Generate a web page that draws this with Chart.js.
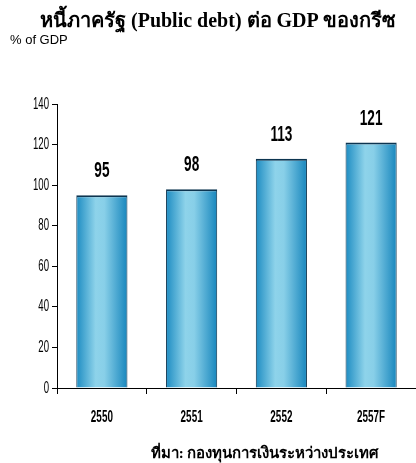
<!DOCTYPE html>
<html>
<head>
<meta charset="utf-8">
<script src="https://cdn.jsdelivr.net/npm/chart.js@4.4.1/dist/chart.umd.min.js"></script>
<style>
  html, body { margin: 0; padding: 0; background: #fff; }
  #wrap { position: relative; width: 416px; height: 463px; overflow: hidden; }
  #cv { position: absolute; left: 0; top: 0; }
  .title { position: absolute; left: 40px; top: 4px; font: bold 20px "Liberation Serif", "Times New Roman", serif; color: #000; white-space: nowrap; }
  .unit  { position: absolute; left: 10px; top: 32px; font: 13px "Liberation Sans", Arial, sans-serif; color: #000; }
  .src   { position: absolute; left: 0; width: 530px; text-align: center; top: 441px; font: bold 15px "Liberation Serif", "Times New Roman", serif; color: #000; white-space: nowrap; }
</style>
</head>
<body>
<div id="wrap">
  <canvas id="cv" width="416" height="463"></canvas>
  <div class="title">หนี้ภาครัฐ (Public debt) ต่อ GDP ของกรีซ</div>
  <div class="unit">% of GDP</div>
  <div class="src">ที่มา: กองทุนการเงินระหว่างประเทศ</div>
</div>
<script>
const categories = ['2550', '2551', '2552', '2557F'];
const debtPct    = [95, 98, 113, 121];
const yTicks     = [0, 20, 40, 60, 80, 100, 120, 140];

const SANS = '"Liberation Sans", Arial, sans-serif';
const BAR_PCT = 0.57;

function barGradient(c) {
  const chart = c.chart;
  if (!chart.chartArea) return '#4fb0d8';
  const xs = chart.scales.x;
  const cx = xs.getPixelForValue(c.dataIndex);
  const half = (xs.width / categories.length) * BAR_PCT / 2;
  const g = chart.ctx.createLinearGradient(cx - half, 0, cx + half, 0);
  g.addColorStop(0, '#1d8cc2');
  g.addColorStop(0.38, '#8ed3ea');
  g.addColorStop(0.55, '#88cfe8');
  g.addColorStop(1, '#1786bd');
  return g;
}

// no narrow font installed -> squeeze the text by hand
function squeezedText(ctx, txt, x, y, sx, sy) {
  ctx.save();
  ctx.translate(x, y);
  ctx.scale(sx, sy);
  ctx.fillText(txt, 0, 0);
  ctx.restore();
}

const narrowLabels = {
  id: 'narrowLabels',
  afterDraw(chart) {
    const ctx = chart.ctx;
    const xs = chart.scales.x, ys = chart.scales.y;
    ctx.save();
    ctx.fillStyle = '#000';

    // y tick labels
    ctx.textAlign = 'right';
    ctx.textBaseline = 'middle';
    ctx.font = '16px ' + SANS;
    yTicks.forEach(v => squeezedText(ctx, String(v), xs.left - 8, ys.getPixelForValue(v), 0.6, 1.05));

    // category labels
    ctx.textAlign = 'center';
    ctx.textBaseline = 'middle';
    ctx.font = 'bold 15px ' + SANS;
    categories.forEach((c, i) => squeezedText(ctx, c, xs.getPixelForValue(i), ys.bottom + 29, 0.66, 1.1));

    // values above bars
    ctx.textBaseline = 'alphabetic';
    ctx.font = 'bold 17px ' + SANS;
    chart.getDatasetMeta(0).data.forEach((bar, i) => {
      squeezedText(ctx, String(debtPct[i]), bar.x, bar.y - 18, 0.8, 1.25);
    });
    ctx.restore();
  }
};

new Chart(document.getElementById('cv'), {
  type: 'bar',
  data: {
    labels: categories,
    datasets: [{
      data: debtPct,
      backgroundColor: barGradient,
      borderColor: '#0d3550',
      borderWidth: { top: 2, left: 1, right: 1, bottom: 0 },
      borderSkipped: false,
      barPercentage: BAR_PCT,
      categoryPercentage: 1
    }]
  },
  options: {
    responsive: false,
    animation: false,
    layout: { padding: { top: 104, left: 0, right: 0, bottom: 0 } },
    plugins: { legend: { display: false }, tooltip: { enabled: false }, title: { display: false } },
    scales: {
      x: {
        grid: { offset: true, drawOnChartArea: false, drawTicks: true, tickLength: 6, color: '#000' },
        border: { color: '#000', width: 1 },
        ticks: { display: false },
        afterFit: (s) => { s.height = 75; }
      },
      y: {
        min: 0,
        max: 140,
        afterBuildTicks: (s) => { s.ticks = yTicks.map(v => ({ value: v })); },
        grid: { drawOnChartArea: false, drawTicks: true, tickLength: 5, color: '#000' },
        border: { color: '#000', width: 1 },
        ticks: { display: false },
        afterFit: (s) => { s.width = 57; }
      }
    }
  },
  plugins: [narrowLabels]
});
</script>
</body>
</html>
